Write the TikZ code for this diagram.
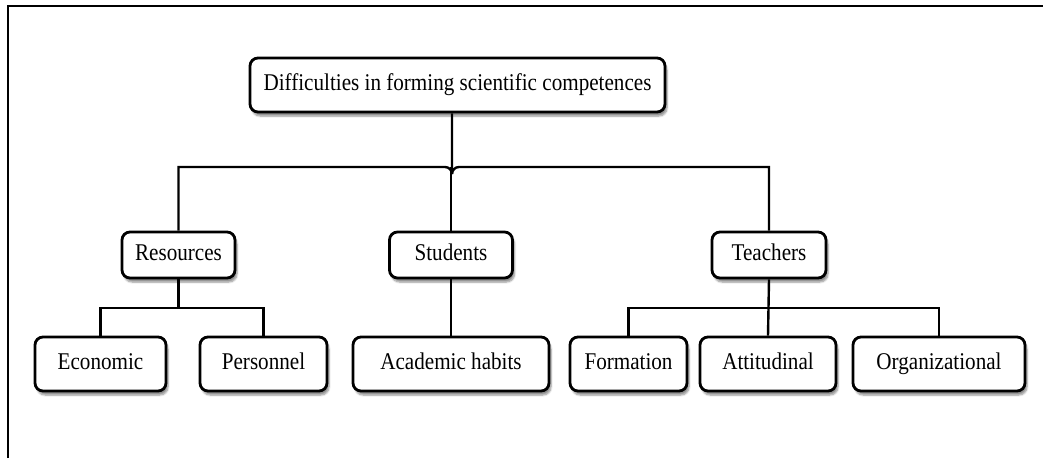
\documentclass[tikz,border=0pt]{standalone}
\usepackage{fontspec}
\setmainfont{Liberation Serif}[FakeStretch=0.88]
\usetikzlibrary{shadows.blur}
\begin{document}
\begin{tikzpicture}[x=1pt,y=-1pt,
  box/.style={draw=black,line width=2.8pt,rounded corners=8pt,fill=white,
    inner sep=0pt,minimum height=54pt,text height=16pt,text depth=5pt,
    font=\fontsize{24}{28}\selectfont,
    blur shadow={shadow xshift=2pt,shadow yshift=-4pt,shadow blur steps=6,shadow opacity=45}},
  midbox/.style={box,minimum height=46pt},
  link/.style={draw=black,line width=2.4pt}]
\useasboundingbox (0,0) rectangle (1043,458);
\draw[line width=2.8pt] (8,458) -- (8,6) -- (1043,6);
\node[box,minimum width=415pt] (top) at (457.5,85) {Difficulties in forming scientific competences};
\node[midbox,minimum width=113pt] (res) at (178.5,255) {Resources};
\node[midbox,minimum width=123pt] (stu) at (451,255) {Students};
\node[midbox,minimum width=114pt] (tea) at (769,255) {Teachers};
\node[box,minimum width=131pt] (eco) at (100.5,364) {Economic};
\node[box,minimum width=127pt] (per) at (263.5,364) {Personnel};
\node[box,minimum width=196pt] (aca) at (451,364) {Academic habits};
\node[box,minimum width=117pt] (for) at (628.5,364) {Formation};
\node[box,minimum width=136pt] (att) at (768,364) {Attitudinal};
\node[box,minimum width=172pt] (org) at (939,364) {Organizational};
\coordinate (j) at (452,167);
\coordinate (rj) at (res.south |- 0,308);
\coordinate (tj) at (tea.south |- 0,308);
\path[link] (top.south -| j) -- ([yshift=-7pt]j) to[out=90,in=0] ([xshift=-7pt]j) -| (res.north);
\path[link] ([yshift=-7pt]j) to[out=90,in=180] ([xshift=7pt]j) -| (tea.north);
\path[link] (stu.north) -- (stu.north |- j);
\path[link] (res.south) -- (rj);
\path[link] (eco.north) |- (rj) -| (per.north);
\path[link] (stu.south) -- (aca.north);
\path[link] (tea.south) -- (att.north);
\path[link] (for.north) |- (tj) -| (org.north);
\end{tikzpicture}
\end{document}
